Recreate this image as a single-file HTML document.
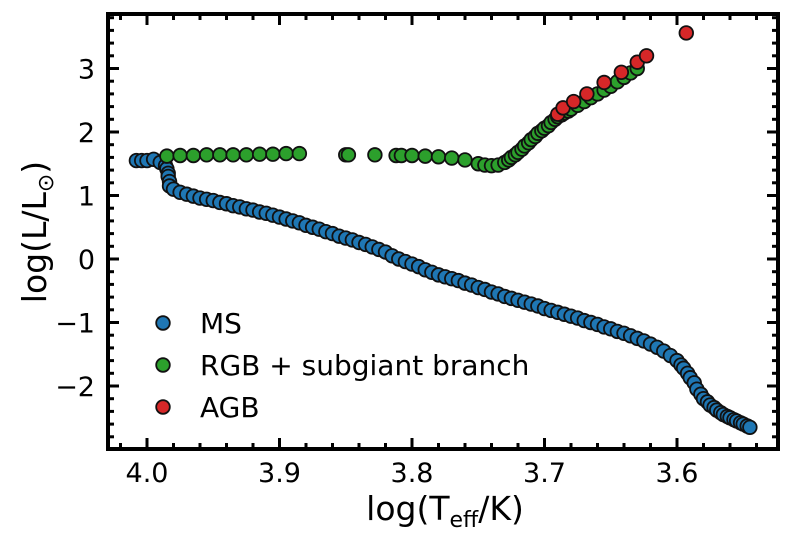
<!DOCTYPE html>
<html><head><meta charset="utf-8"><style>
body{margin:0;background:#fff}
svg{display:block;font-family:"DejaVu Sans","Liberation Sans",sans-serif}
</style></head><body>
<svg id="c" width="792" height="543"></svg>
<script>
const msT=[4.008,4.004,4.000,3.995,3.990,3.986,3.985,3.984,3.984,3.983,3.983,3.980,3.975,3.970,3.965,3.960,3.955,3.950,3.945,3.940,3.935,3.930,3.925,3.920,3.915,3.910,3.905,3.900,3.895,3.890,3.885,3.880,3.875,3.870,3.865,3.860,3.855,3.850,3.845,3.840,3.835,3.830,3.825,3.820,3.815,3.810,3.805,3.800,3.795,3.790,3.785,3.780,3.775,3.770,3.765,3.760,3.755,3.750,3.745,3.740,3.735,3.730,3.725,3.720,3.715,3.710,3.705,3.700,3.695,3.690,3.685,3.680,3.675,3.670,3.665,3.660,3.655,3.650,3.645,3.640,3.635,3.630,3.625,3.620,3.615,3.610,3.605,3.600,3.597,3.595,3.592,3.590,3.587,3.585,3.582,3.580,3.577,3.575,3.572,3.570,3.567,3.565,3.562,3.560,3.557,3.555,3.552,3.550,3.547,3.545];
const msL=[1.55,1.55,1.55,1.57,1.52,1.47,1.42,1.35,1.30,1.22,1.15,1.10,1.05,1.02,0.99,0.96,0.94,0.92,0.89,0.87,0.84,0.82,0.79,0.77,0.74,0.72,0.69,0.66,0.63,0.60,0.57,0.53,0.50,0.47,0.43,0.40,0.36,0.33,0.30,0.26,0.23,0.19,0.15,0.11,0.05,0.00,-0.04,-0.08,-0.12,-0.17,-0.21,-0.25,-0.28,-0.31,-0.34,-0.38,-0.41,-0.45,-0.48,-0.52,-0.55,-0.59,-0.62,-0.65,-0.68,-0.71,-0.74,-0.78,-0.81,-0.84,-0.87,-0.90,-0.93,-0.97,-1.00,-1.03,-1.07,-1.10,-1.14,-1.17,-1.21,-1.25,-1.29,-1.34,-1.39,-1.45,-1.52,-1.60,-1.67,-1.72,-1.80,-1.87,-1.95,-2.05,-2.13,-2.20,-2.25,-2.30,-2.34,-2.38,-2.42,-2.45,-2.48,-2.50,-2.53,-2.55,-2.58,-2.60,-2.63,-2.65];
const rgbT=[3.985,3.975,3.965,3.955,3.945,3.935,3.925,3.915,3.905,3.895,3.885,3.850,3.848,3.828,3.812,3.808,3.800,3.790,3.780,3.770,3.760,3.750,3.745,3.740,3.735,3.730,3.727,3.725,3.722,3.720,3.717,3.715,3.712,3.710,3.707,3.705,3.702,3.700,3.697,3.695,3.692,3.690,3.687,3.685,3.682,3.680,3.675,3.670,3.665,3.660,3.655,3.650,3.645,3.640,3.635,3.630];
const rgbL=[1.62,1.63,1.63,1.64,1.64,1.64,1.64,1.65,1.65,1.66,1.66,1.64,1.64,1.64,1.63,1.63,1.63,1.62,1.61,1.59,1.56,1.50,1.48,1.47,1.48,1.52,1.56,1.60,1.64,1.68,1.73,1.78,1.83,1.88,1.93,1.98,2.02,2.06,2.10,2.15,2.20,2.24,2.27,2.30,2.33,2.36,2.42,2.48,2.54,2.60,2.66,2.72,2.79,2.86,2.93,3.00];
const agbT=[3.690,3.686,3.678,3.668,3.655,3.642,3.630,3.623,3.593];
const agbL=[2.28,2.38,2.48,2.60,2.78,2.94,3.10,3.20,3.56];
const xTicks=[4.0,3.9,3.8,3.7,3.6];
const xLabels=["4.0","3.9","3.8","3.7","3.6"];
const yTicks=[-2,-1,0,1,2,3];
const yLabels=["\u22122","\u22121","0","1","2","3"];

const NS="http://www.w3.org/2000/svg",svg=document.getElementById('c');
const L=108,R=778,T=14,B=449;
const X=v=>147+(4.0-v)*1325;
const Y=v=>259-v*63.5;
function mk(t,a,p){const e=document.createElementNS(NS,t);for(const k in a)e.setAttribute(k,a[k]);(p||svg).appendChild(e);return e;}
function series(ts,ls,col,name){const g=mk('g',{});


ts.forEach((t,i)=>{const c=mk('circle',{cx:X(t),cy:Y(ls[i]),r:6.8,fill:col,stroke:'#111','stroke-width':1.8},g);

});}
series(msT,msL,'#1f77b4','ms');
series(rgbT,rgbL,'#2ca02c','rgb');
series(agbT,agbL,'#d62728','agb');
const tg=mk('g',{stroke:'#000','stroke-width':3});


for(let v=4.04;v>=3.52;v-=0.02){const x=X(v);if(x<L+2||x>R-2)continue;
const maj=Math.abs(v*10-Math.round(v*10))<1e-6;const len=maj?11:6;
mk('line',{x1:x,x2:x,y1:B,y2:B-len},tg);mk('line',{x1:x,x2:x,y1:T,y2:T+len},tg);}
for(let v=-3;v<=4;v+=0.2){const y=Y(v);if(y<T+2||y>B-2)continue;
const maj=Math.abs(v-Math.round(v))<1e-6;const len=maj?11:6;
mk('line',{x1:L,x2:L+len,y1:y,y2:y},tg);mk('line',{x1:R,x2:R-len,y1:y,y2:y},tg);}
const fr=mk('rect',{x:L,y:T,width:R-L,height:B-T,fill:'none',stroke:'#000','stroke-width':4});


xTicks.forEach((v,i)=>{const t=mk('text',{x:X(v),y:B+33,'text-anchor':'middle','font-size':27});t.textContent=xLabels[i];

});
yTicks.forEach((v,i)=>{const t=mk('text',{x:L-13,y:Y(v)+10,'text-anchor':'end','font-size':27});t.textContent=yLabels[i];

});
</script>
<svg style="position:absolute;left:0;top:0" width="792" height="543">
<text x="445" y="520" text-anchor="middle" font-size="33" font-family="DejaVu Sans, sans-serif">log(T<tspan font-size="22" dy="7">eff</tspan><tspan dy="-7">/K)</tspan></text>
<text transform="translate(46,232) rotate(-90)" text-anchor="middle" font-size="33" font-family="DejaVu Sans, sans-serif">log(L/L<tspan font-size="22" dy="7">⊙</tspan><tspan dy="-7">)</tspan></text>
<g font-size="28" font-family="DejaVu Sans, sans-serif">
<circle cx="163" cy="323" r="6.8" fill="#1f77b4" stroke="#111" stroke-width="1.8"/>
<text x="200" y="333">MS</text>
<circle cx="163" cy="365" r="6.8" fill="#2ca02c" stroke="#111" stroke-width="1.8"/>
<text x="200" y="375">RGB + subgiant branch</text>
<circle cx="163" cy="407" r="6.8" fill="#d62728" stroke="#111" stroke-width="1.8"/>
<text x="200" y="417">AGB</text>
</g>
</svg>
</body></html>
